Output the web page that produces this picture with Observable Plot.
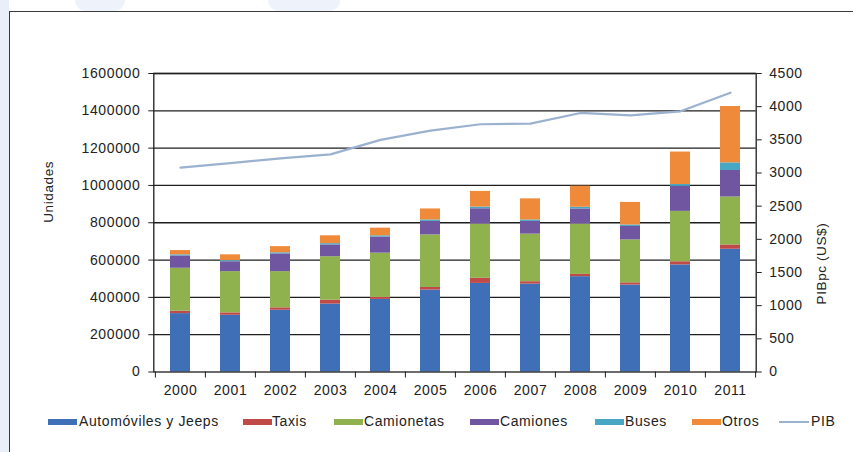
<!DOCTYPE html>
<html>
<head>
<meta charset="utf-8">
<script src="https://cdn.jsdelivr.net/npm/d3@7"></script>
<script src="https://cdn.jsdelivr.net/npm/@observablehq/plot@0.6"></script>
<style>
  html, body { margin: 0; padding: 0; background: #fff; }
  #wrap { position: relative; width: 853px; height: 452px; overflow: hidden; font-family: "Liberation Sans", Arial, sans-serif; }
  #strip { position: absolute; left: 0; top: 0; width: 9px; height: 452px; background: #e8eff9; }
  .blob { position: absolute; top: 0; height: 11px; background: #eef3fb; border-radius: 0 0 20px 20px; }
  #border { position: absolute; left: 9px; top: 11px; width: 900px; height: 500px; border: 1.5px solid #3a3a3a; box-sizing: border-box; }
  #chart { position: absolute; left: 0; top: 0; }
  #chart svg text { letter-spacing: 0.6px; }
  .lg { position: absolute; top: 413px; font-size: 14px; letter-spacing: 0.6px; color: #222; line-height: 16px; white-space: nowrap; }
  .sw { position: absolute; height: 6px; top: 419px; }
  .ln { position: absolute; height: 2px; top: 421px; }
</style>
</head>
<body>
<div id="wrap">
  <div id="strip"></div>
  <div class="blob" style="left:75px;width:50px"></div>
  <div class="blob" style="left:268px;width:72px"></div>
  <div id="border"></div>
  <div id="chart"></div>
  <div id="legend"></div>
</div>
<script>
const years = ["2000","2001","2002","2003","2004","2005","2006","2007","2008","2009","2010","2011"];
const autos      = [313000, 304000, 331000, 364000, 389000, 439000, 475000, 471000, 511000, 466000, 574000, 658000];
const taxis      = [ 13000,  13000,  13000,  21000,  11000,  14000,  27000,  13000,  12000,  12000,  17000,  23000];
const camionetas = [230000, 221000, 194000, 233000, 237000, 282000, 291000, 255000, 270000, 230000, 270000, 257000];
const camiones   = [ 66000,  53000,  95000,  63000,  86000,  72000,  82000,  68000,  81000,  72000, 134000, 142000];
const buses      = [  6000,   6000,   6000,   7000,   7000,   8000,   9000,   8000,   9000,   8000,  10000,  41000];
const otros      = [ 23000,  31000,  33000,  42000,  41000,  59000,  84000, 113000, 113000, 121000, 174000, 302000];
const pib        = [3080, 3150, 3220, 3280, 3500, 3640, 3735, 3745, 3905, 3870, 3930, 4210];

const seriesNames = ["Automóviles y Jeeps", "Taxis", "Camionetas", "Camiones", "Buses", "Otros"];
const seriesValues = [autos, taxis, camionetas, camiones, buses, otros];
const colors = ["#3f6fb6", "#bf4a47", "#8fb24f", "#7055a0", "#4aa7c4", "#ef8a3b"];
const pibColor = "#9bb1d0";

const leftTicks = [0, 200000, 400000, 600000, 800000, 1000000, 1200000, 1400000, 1600000];
const rightTicks = [0, 500, 1000, 1500, 2000, 2500, 3000, 3500, 4000, 4500];

const yMax = 1600000, pMax = 4500;
const toY = p => p * yMax / pMax;

const rows = [];
years.forEach((yr, i) => seriesNames.forEach((s, j) => rows.push({year: yr, serie: s, value: seriesValues[j][i]})));
const pibRows = years.map((yr, i) => ({year: yr, pib: pib[i]}));

const W = 853, H = 405;
const mL = 153.3, mR = 97.3;
const step = (W - mL - mR) / years.length;

const plot = Plot.plot({
  width: W, height: H,
  marginLeft: mL, marginRight: mR, marginTop: 73, marginBottom: H - 371.5,
  style: {fontFamily: '"Liberation Sans", Arial, sans-serif', fontSize: "14px", color: "#222", background: "transparent"},
  x: {domain: years, paddingInner: 0.6, paddingOuter: 0.3, label: null},
  y: {domain: [0, yMax], label: null},
  color: {domain: seriesNames, range: colors},
  marks: [
    Plot.gridY(leftTicks.filter(d => d > 0), {stroke: "#1e1e1e", strokeOpacity: 1, strokeWidth: 1.3}),
    Plot.barY(rows, {x: "year", y: "value", fill: "serie", order: seriesNames}),
    Plot.lineY(pibRows, {x: "year", y: d => toY(d.pib), stroke: pibColor, strokeWidth: 2.2}),
    Plot.frame({stroke: "#1e1e1e", strokeWidth: 1.3}),
    Plot.axisY({anchor: "left", ticks: leftTicks, tickFormat: d => String(d), tickSize: 5, tickPadding: 8.5, label: null, stroke: "#1e1e1e"}),
    Plot.axisY({anchor: "right", ticks: rightTicks.map(toY), tickFormat: d => String(Math.round(d * pMax / yMax)), tickSize: 5, tickPadding: 8, label: null, stroke: "#1e1e1e"}),
    Plot.axisX({anchor: "bottom", tickSize: 0, tickPadding: 13, label: null}),
    Plot.axisX({anchor: "bottom", tickSize: 6, tickFormat: () => "", dx: -step / 2, label: null, stroke: "#1e1e1e"}),
    Plot.axisX({anchor: "bottom", ticks: [years[years.length - 1]], tickSize: 6, tickFormat: () => "", dx: step / 2, label: null, stroke: "#1e1e1e"}),
    Plot.text(["Unidades"], {frameAnchor: "left", dx: -105, rotate: -90, text: d => d, fontSize: 13.5, fill: "#222"}),
    Plot.text(["PIBpc (US$)"], {frameAnchor: "right", dx: 65, rotate: -90, text: d => d, fontSize: 13.5, fill: "#222"})
  ]
});
document.getElementById("chart").appendChild(plot);

// Legend (HTML, below the SVG)
const legendPos = [
  {sw: 48, tx: 79}, {sw: 243, tx: 272}, {sw: 334, tx: 364},
  {sw: 470, tx: 500}, {sw: 595, tx: 625}, {sw: 692, tx: 722}
];
const lg = document.getElementById("legend");
seriesNames.forEach((s, i) => {
  const sw = document.createElement("div");
  sw.className = "sw";
  sw.style.left = legendPos[i].sw + "px";
  sw.style.width = "29px";
  sw.style.background = colors[i];
  lg.appendChild(sw);
  const t = document.createElement("div");
  t.className = "lg";
  t.style.left = legendPos[i].tx + "px";
  t.textContent = s;
  lg.appendChild(t);
});
const ln = document.createElement("div");
ln.className = "ln";
ln.style.left = "779px"; ln.style.width = "30px"; ln.style.background = pibColor;
lg.appendChild(ln);
const lt = document.createElement("div");
lt.className = "lg";
lt.style.left = "811px";
lt.textContent = "PIB";
lg.appendChild(lt);
</script>
</body>
</html>
